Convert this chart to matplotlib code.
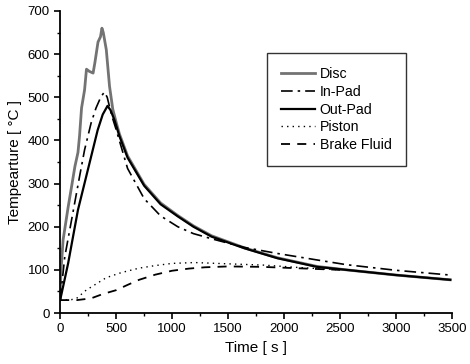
import matplotlib.pyplot as plt
import numpy as np

plt.rcParams['font.family'] = ['Liberation Sans', 'DejaVu Sans']

# values
t_disc = [0, 6, 26, 71, 100, 132, 159, 173, 191, 218, 235, 260, 294, 310, 338,
          360, 373, 385, 412, 441, 470, 500, 529, 602, 750, 897, 1050, 1190,
          1352, 1646, 1940, 2293, 2557, 3000, 3483]
T_disc = [35, 92, 169, 245, 290, 340, 372, 410, 475, 517, 565, 560, 556, 580, 628,
          640, 660, 650, 610, 525, 472, 442, 415, 364, 298, 255, 226, 202,
          179, 151, 128, 108, 100, 88, 77]

t_inpad = [0, 41, 85, 129, 173, 218, 276, 320, 364, 395, 420, 460, 500, 602, 750,
           897, 1050, 1190, 1382, 1646, 1940, 2293, 2557, 3000, 3483]
T_inpad = [30, 130, 192, 254, 316, 378, 440, 475, 501, 512, 500, 458, 425, 335, 265,
           225, 200, 184, 170, 152, 138, 123, 112, 99, 88]

t_outpad = [0, 26, 71, 115, 159, 218, 276, 335, 380, 423, 450, 485, 529, 602, 750,
            897, 1050, 1190, 1352, 1646, 1940, 2293, 2557, 3000, 3483]
T_outpad = [30, 61, 115, 177, 239, 301, 362, 424, 460, 480, 470, 447, 410, 360, 295,
            252, 224, 200, 177, 150, 127, 107, 100, 88, 77]

t_piston = [0, 100, 147, 232, 412, 550, 705, 850, 999, 1200, 1500, 1823, 2100, 2500]
T_piston = [30, 31, 34, 53, 82, 94, 104, 110, 115, 117, 114, 111, 106, 100]

t_fluid = [0, 150, 276, 380, 500, 600, 705, 850, 999, 1150, 1293, 1500, 1800, 2100, 2500]
T_fluid = [30, 30, 34, 44, 53, 65, 77, 89, 98, 103, 106, 108, 107, 104, 100]

fig = plt.figure(figsize=(4.7, 3.64), dpi=100)
ax = fig.add_axes([0.128, 0.14, 0.834, 0.83])

ax.plot(t_disc, T_disc, color='0.45', lw=2.0, label='Disc')
ax.plot(t_inpad, T_inpad, color='black', lw=1.2, dashes=(7, 3, 1.5, 3), label='In-Pad')
ax.plot(t_outpad, T_outpad, color='black', lw=1.6, label='Out-Pad')
ax.plot(t_piston, T_piston, color='black', lw=1.0, dashes=(1, 3), label='Piston')
ax.plot(t_fluid, T_fluid, color='black', lw=1.3, dashes=(5, 4), label='Brake Fluid')

ax.set_xlim(0, 3500)
ax.set_ylim(0, 700)
ax.set_xticks(np.arange(0, 3501, 500))
ax.set_xticks(np.arange(0, 3501, 250), minor=True)
ax.set_yticks(np.arange(0, 701, 100))
ax.set_yticks(np.arange(0, 701, 50), minor=True)
ax.tick_params(direction='out', length=4, width=1.2, labelsize=9.5)
ax.tick_params(which='minor', direction='out', length=2.5, width=1)
for s in ['top', 'right']:
    ax.spines[s].set_visible(False)
for s in ['left', 'bottom']:
    ax.spines[s].set_linewidth(1.3)

ax.set_xlabel('Time [ s ]', fontsize=11)
ax.set_ylabel('Tempearture [ °C ]', fontsize=11)

leg = ax.legend(loc='upper left', bbox_to_anchor=(0.527, 0.86), borderaxespad=0,
                fontsize=10.2, frameon=True, fancybox=False, edgecolor='black',
                handlelength=2.4, labelspacing=0.26, borderpad=1.0,
                handletextpad=0.34)
leg.get_frame().set_linewidth(1.0)

fig.savefig('out.png', dpi=100)
